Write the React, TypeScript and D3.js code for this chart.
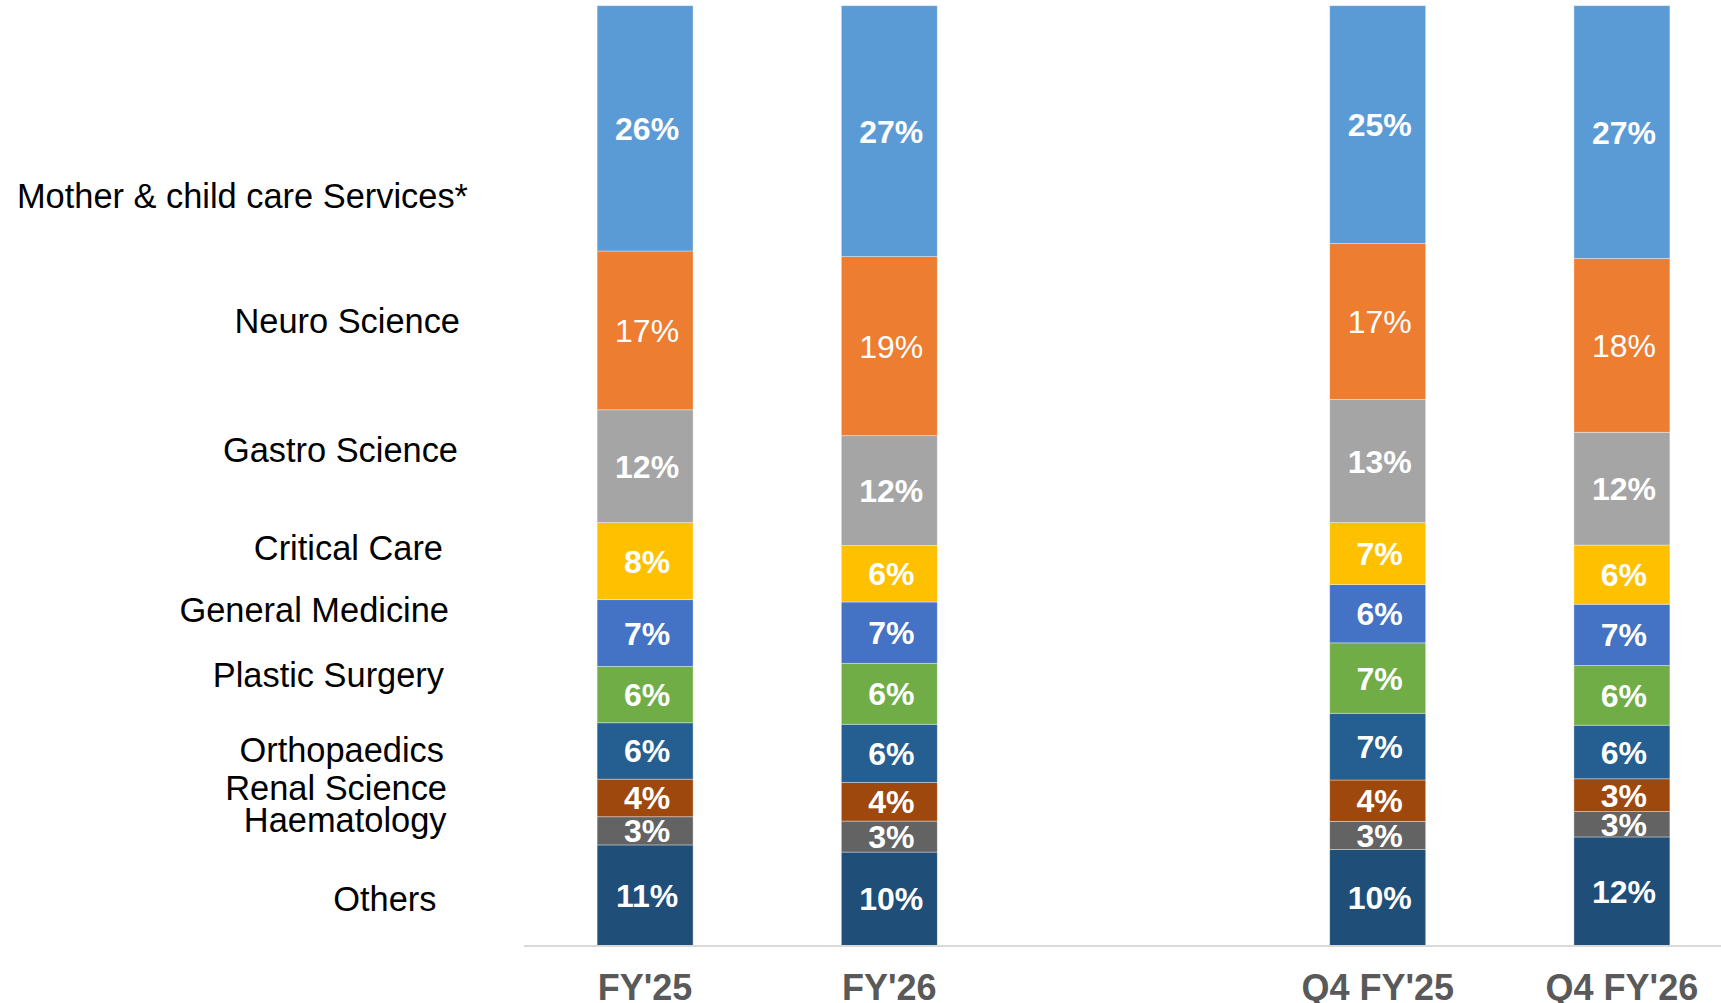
import React from "react";
import * as d3 from "d3";

// ---- Data ----
const periods = ["FY'25", "FY'26", "Q4 FY'25", "Q4 FY'26"];

const specialties = [
  "Mother & child care Services*",
  "Neuro Science",
  "Gastro Science",
  "Critical Care",
  "General Medicine",
  "Plastic Surgery",
  "Orthopaedics",
  "Renal Science",
  "Haematology",
  "Others",
];

// share (%) of each specialty, in the same order as `specialties`
const fy25 = [26.1, 16.9, 12.0, 8.2, 7.1, 6.0, 6.0, 4.0, 3.0, 10.7];
const fy26 = [26.7, 19.05, 11.7, 6.0, 6.52, 6.49, 6.2, 4.1, 3.3, 9.94];
const q4fy25 = [25.3, 16.6, 13.1, 6.6, 6.2, 7.49, 7.1, 4.4, 3.0, 10.21];
const q4fy26 = [26.9, 18.49, 12.0, 6.3, 6.52, 6.35, 5.7, 3.49, 2.7, 11.55];

const seriesByPeriod = [fy25, fy26, q4fy25, q4fy26];

// ---- Styling / layout ----
const colors = [
  "#5B9BD5",
  "#ED7D31",
  "#A5A5A5",
  "#FFC000",
  "#4472C4",
  "#70AD47",
  "#255E91",
  "#9E480E",
  "#636363",
  "#1F4E79",
];
const boldLabel = [true, false, true, true, true, true, true, true, true, true];

// hand placed category captions on the left (right edge x, baseline y)
const captionLayout = [
  { x: 468, y: 208 },
  { x: 460, y: 333 },
  { x: 458, y: 461.5 },
  { x: 443, y: 560 },
  { x: 449, y: 621.5 },
  { x: 444, y: 686.5 },
  { x: 444, y: 761.5 },
  { x: 447, y: 799.5 },
  { x: 446.5, y: 831.5 },
  { x: 436.5, y: 910.5 },
];

const W = 1721;
const H = 1003;
const FONT = "'Liberation Sans', Arial, Helvetica, sans-serif";
const GAP = "__gap__";

export default function App() {
  const domain = [periods[0], periods[1], GAP, periods[2], periods[3]];
  const x = d3
    .scaleBand<string>()
    .domain(domain)
    .range([523, 1744])
    .paddingInner(0.607)
    .paddingOuter(0.3035);
  const y = d3.scaleLinear().domain([0, 100]).range([945.5, 5.7]);

  const rows = periods.map((p, i) => {
    const r: Record<string, any> = { period: p };
    specialties.forEach((s, j) => {
      r[s] = seriesByPeriod[i][j];
    });
    return r;
  });

  const stackKeys = specialties.slice().reverse();
  const stacked = d3.stack<any>().keys(stackKeys)(rows);

  const bw = x.bandwidth();

  return (
    <svg
      width={W}
      height={H}
      style={{ position: "absolute", left: 0, top: 0, background: "#fff" }}
      fontFamily={FONT}
    >
      <rect x={0} y={0} width={W} height={H} fill="#fff" />
      {stacked.map((layer) => {
        const idx = specialties.indexOf(layer.key);
        return (
          <g key={layer.key}>
            {layer.map((seg, i) => {
              const p = periods[i];
              const x0 = x(p) as number;
              const y0 = y(seg[1]);
              const y1 = y(seg[0]);
              const v = seg[1] - seg[0];
              return (
                <g key={p}>
                  <rect
                    x={x0}
                    y={y0}
                    width={bw}
                    height={y1 - y0}
                    fill={colors[idx]}
                    stroke="#ffffff"
                    strokeOpacity={0.45}
                    strokeWidth={0.8}
                  />
                  <text
                    x={x0 + bw / 2 + 2}
                    y={(y0 + y1) / 2}
                    dy="0.36em"
                    textAnchor="middle"
                    fill="#ffffff"
                    fontSize={32}
                    fontWeight={boldLabel[idx] ? 700 : 400}
                  >
                    {Math.round(v) + "%"}
                  </text>
                </g>
              );
            })}
          </g>
        );
      })}

      {/* baseline */}
      <line x1={524} x2={W} y1={946} y2={946} stroke="#D9D9D9" strokeWidth={2} />

      {/* period labels */}
      {periods.map((p) => (
        <text
          key={p}
          x={(x(p) as number) + bw / 2}
          y={1000}
          textAnchor="middle"
          fill="#595959"
          fontSize={36}
          fontWeight={700}
        >
          {p}
        </text>
      ))}

      {/* category captions */}
      {specialties.map((s, i) => (
        <text
          key={s}
          x={captionLayout[i].x}
          y={captionLayout[i].y}
          textAnchor="end"
          fill="#000000"
          fontSize={34.4}
        >
          {s}
        </text>
      ))}
    </svg>
  );
}
